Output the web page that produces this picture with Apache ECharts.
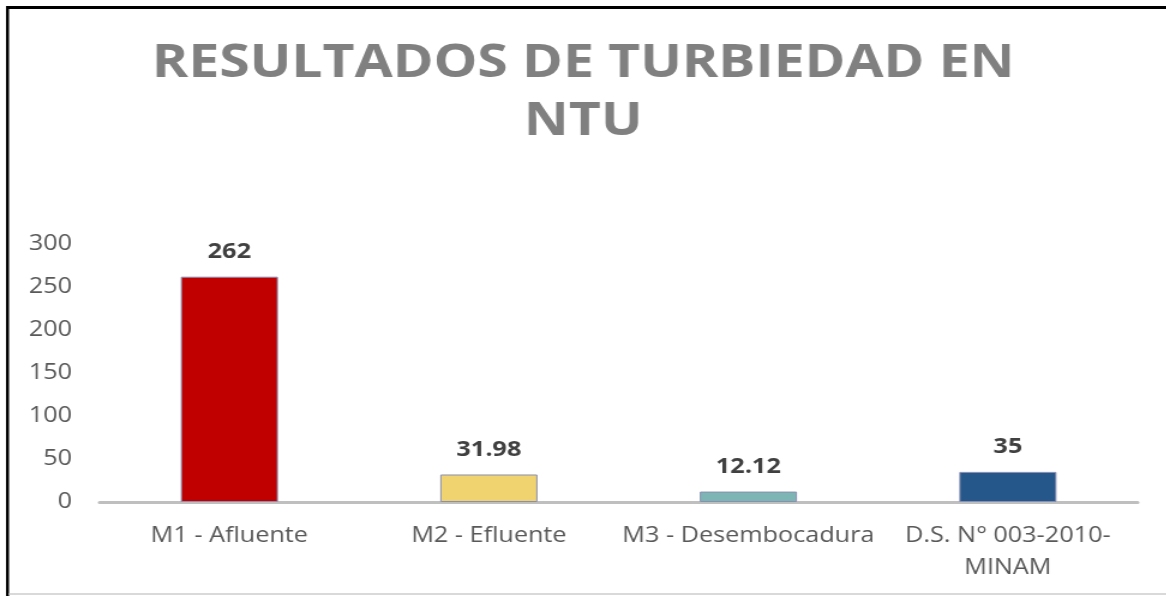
<!DOCTYPE html>
<html>
<head>
<meta charset="utf-8">
<script src="https://cdn.jsdelivr.net/npm/echarts@6/dist/echarts.min.js"></script>
<style>
  html, body { margin: 0; padding: 0; background: #fff; overflow: hidden; }
  /* the reference is a horizontally stretched picture, so the chart is drawn narrower and stretched */
  #chart { width: 972px; height: 596px; transform: scaleX(1.2); transform-origin: 0 0; }
</style>
</head>
<body>
<div id="chart"></div>
<script>
var categories = ['M1 - Afluente', 'M2 - Efluente', 'M3 - Desembocadura', 'D.S. N° 003-2010- MINAM'];
var turbidez = [262, 31.98, 12.12, 35];
var barColors = ['#c00000', '#f0d36e', '#7db4b4', '#25578a'];
var yTicks = { min: 0, max: 300, interval: 50 };

var myChart = echarts.init(document.getElementById('chart'));

var option = {
    backgroundColor: '#fff',
    title: {
        text: 'RESULTADOS DE TURBIEDAD EN\nNTU',
        left: 'center',
        top: 30,
        textStyle: {
            fontFamily: 'Open Sans',
            fontWeight: 'bold',
            fontSize: 46,
            lineHeight: 58,
            color: '#808080'
        }
    },
    graphic: [
        { type: 'rect', shape: { x: 5, y: 6, width: 980, height: 3 }, style: { fill: '#000' } },
        { type: 'rect', shape: { x: 5, y: 6, width: 2.5, height: 596 }, style: { fill: '#000' } },
        { type: 'rect', shape: { x: 7.5, y: 593, width: 980, height: 2 }, style: { fill: '#d9d9d9' } }
    ],
    grid: {
        left: 83,
        right: 24,
        top: 244,
        bottom: 94
    },
    xAxis: {
        type: 'category',
        data: categories,
        axisLine: { lineStyle: { color: '#bfbfbf', width: 3 } },
        axisTick: { show: false },
        axisLabel: {
            color: '#595959',
            fontFamily: 'Open Sans',
            fontSize: 21,
            lineHeight: 32,
            margin: 18,
            interval: 0,
            formatter: function (v) {
                return v.replace('- MINAM', '-\nMINAM');
            }
        }
    },
    yAxis: {
        type: 'value',
        min: yTicks.min,
        max: yTicks.max,
        interval: yTicks.interval,
        splitLine: { show: false },
        axisLine: { show: false },
        axisTick: { show: false },
        axisLabel: {
            color: '#595959',
            fontFamily: 'Open Sans',
            fontSize: 21,
            margin: 23
        }
    },
    series: [
        {
            type: 'bar',
            barWidth: 81,
            data: turbidez.map(function (v, i) {
                return {
                    value: v,
                    itemStyle: { color: barColors[i], borderColor: '#8a8fb0', borderWidth: 1 }
                };
            }),
            label: {
                show: true,
                position: 'top',
                distance: 14,
                color: '#404040',
                fontFamily: 'Open Sans',
                fontWeight: 'bold',
                fontSize: 21
            }
        }
    ]
};
myChart.setOption(option);
</script>
</body>
</html>
